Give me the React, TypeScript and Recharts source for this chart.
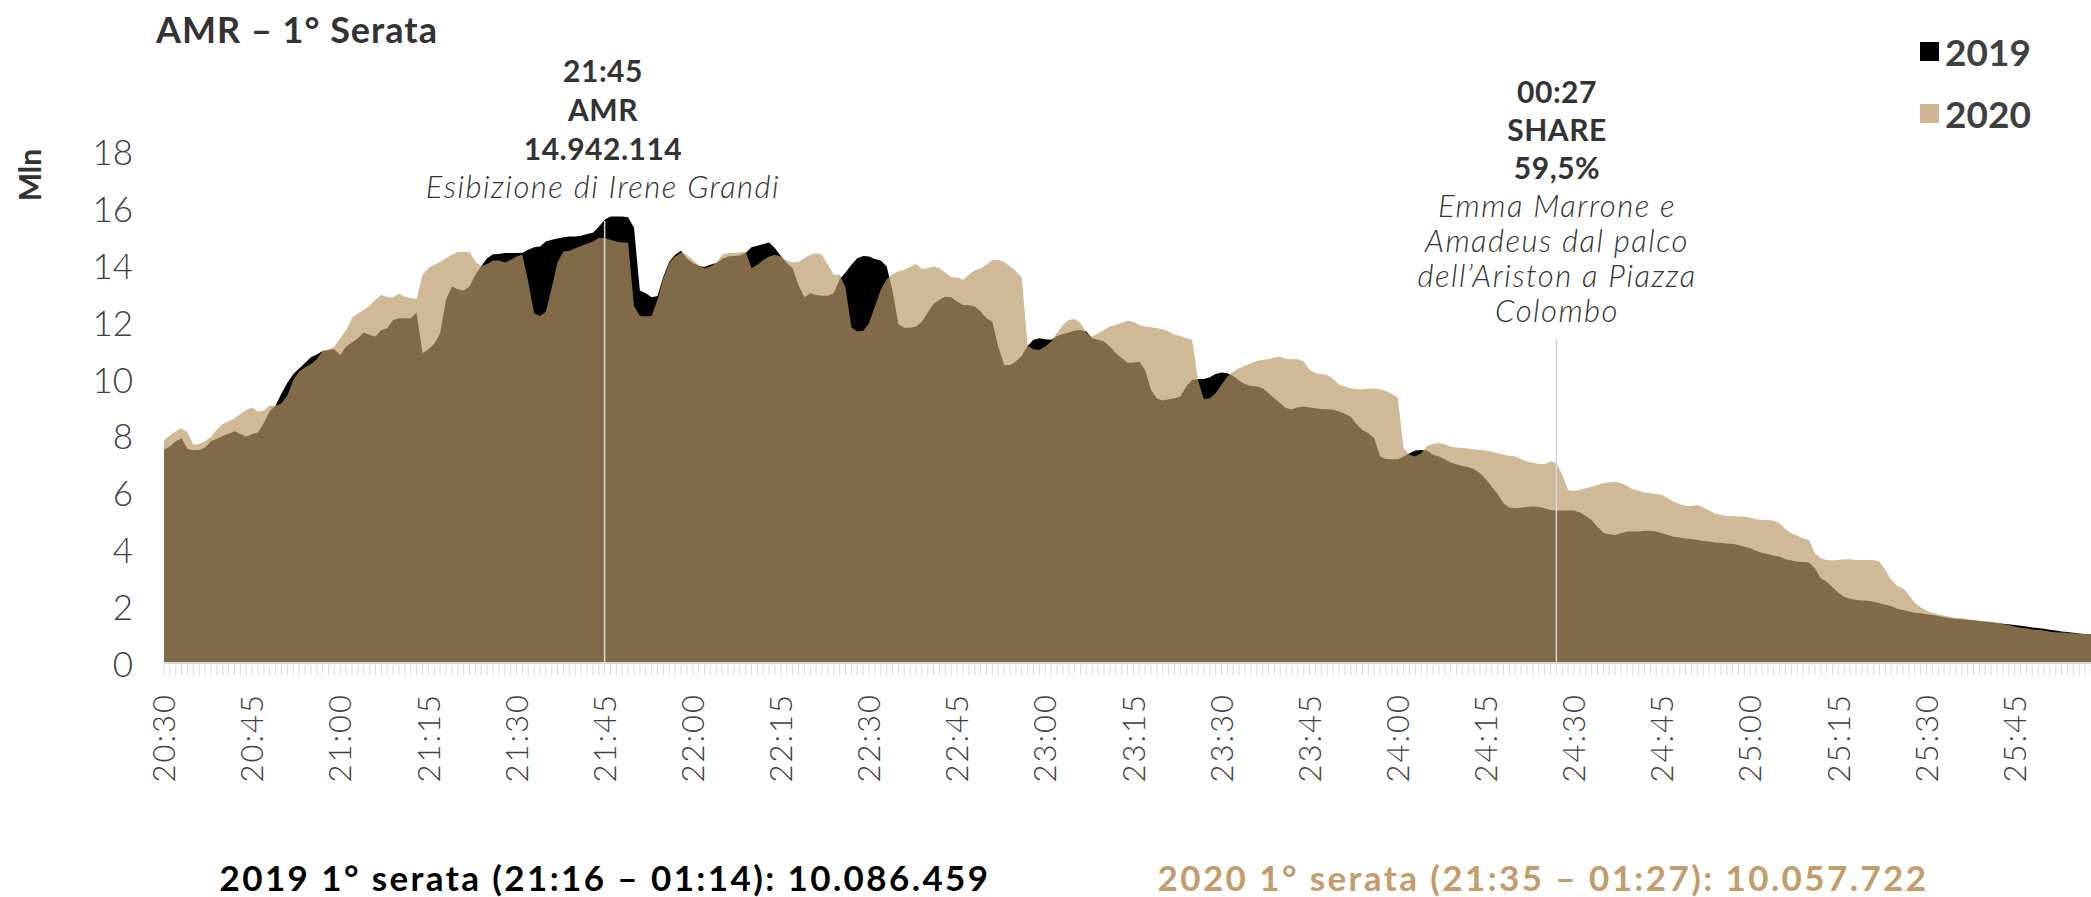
import React from 'react';
import { AreaChart, Area, XAxis, YAxis, ReferenceLine, Legend } from 'recharts';

// ---------- DATA ----------
const START_MINUTES = 20 * 60 + 30; // 20:30
const POINTS = 329; // one point per minute, 20:30 .. 25:58

const CATEGORIES: string[] = Array.from({ length: POINTS }, (_, i) => {
  const t = START_MINUTES + i;
  return `${Math.floor(t / 60)}:${String(t % 60).padStart(2, '0')}`;
});

const TICK_LABELS = [
  '20:30', '20:45', '21:00', '21:15', '21:30', '21:45', '22:00', '22:15', '22:30', '22:45', '23:00',
  '23:15', '23:30', '23:45', '24:00', '24:15', '24:30', '24:45', '25:00', '25:15', '25:30', '25:45',
];

const Y_TICKS = [0, 2, 4, 6, 8, 10, 12, 14, 16, 18];

// AMR (millions), 2019 – one value per minute
const SERIES_2019 = [
  7.50, 7.62, 7.80, 7.90, 7.52, 7.48, 7.49, 7.58, 7.80, 7.88,
  7.98, 8.06, 8.15, 8.05, 7.95, 8.05, 8.10, 8.45, 8.85, 9.05,
  9.48, 9.85, 10.15, 10.35, 10.55, 10.75, 10.85, 10.97, 11.00, 11.03,
  10.83, 11.13, 11.27, 11.42, 11.62, 11.53, 11.48, 11.71, 11.77, 12.06,
  12.12, 12.12, 12.12, 12.32, 10.89, 11.03, 11.22, 11.59, 12.77, 13.24,
  13.14, 13.10, 13.24, 13.65, 13.96, 14.23, 14.37, 14.38, 14.41, 14.41,
  14.41, 14.42, 14.53, 14.62, 14.64, 14.82, 14.88, 14.92, 14.97, 14.99,
  14.99, 15.02, 15.08, 15.13, 15.34, 15.58, 15.70, 15.70, 15.70, 15.67,
  15.30, 13.10, 13.00, 12.86, 12.90, 13.59, 14.11, 14.35, 14.49, 14.23,
  14.06, 13.97, 13.92, 14.00, 14.06, 14.20, 14.29, 14.31, 14.33, 14.41,
  14.62, 14.67, 14.73, 14.78, 14.58, 14.31, 14.06, 13.88, 13.29, 12.86,
  13.00, 12.94, 12.91, 12.91, 13.00, 13.49, 13.73, 14.00, 14.23, 14.31,
  14.29, 14.20, 14.15, 13.95, 13.10, 11.92, 11.79, 11.79, 11.83, 12.00,
  12.32, 12.63, 12.77, 12.88, 12.86, 12.71, 12.59, 12.58, 12.53, 12.36,
  12.12, 12.00, 11.13, 10.48, 10.48, 10.60, 10.80, 11.15, 11.36, 11.42,
  11.38, 11.36, 11.50, 11.57, 11.62, 11.69, 11.71, 11.65, 11.42, 11.36,
  11.30, 11.13, 10.89, 10.72, 10.56, 10.56, 10.60, 10.30, 9.60, 9.31,
  9.23, 9.27, 9.31, 9.37, 9.72, 9.95, 9.98, 9.98, 10.05, 10.16,
  10.21, 10.19, 10.09, 9.93, 9.81, 9.74, 9.72, 9.66, 9.48, 9.31,
  9.13, 8.96, 8.92, 8.99, 9.02, 8.98, 8.96, 8.93, 8.92, 8.90,
  8.84, 8.76, 8.66, 8.39, 8.19, 8.08, 7.90, 7.26, 7.17, 7.16,
  7.16, 7.26, 7.37, 7.47, 7.49, 7.47, 7.32, 7.26, 7.16, 7.05,
  6.99, 6.93, 6.88, 6.81, 6.67, 6.46, 6.20, 5.94, 5.62, 5.47,
  5.44, 5.46, 5.48, 5.50, 5.48, 5.44, 5.38, 5.36, 5.36, 5.36,
  5.36, 5.29, 5.17, 5.03, 4.79, 4.58, 4.53, 4.50, 4.56, 4.62,
  4.62, 4.62, 4.65, 4.65, 4.62, 4.56, 4.50, 4.44, 4.41, 4.38,
  4.35, 4.33, 4.29, 4.27, 4.24, 4.23, 4.19, 4.19, 4.15, 4.09,
  4.03, 3.95, 3.88, 3.83, 3.77, 3.74, 3.65, 3.60, 3.56, 3.55,
  3.53, 3.33, 2.98, 2.86, 2.66, 2.47, 2.33, 2.26, 2.22, 2.20,
  2.19, 2.15, 2.10, 2.05, 2.00, 1.91, 1.86, 1.81, 1.77, 1.75,
  1.71, 1.69, 1.65, 1.61, 1.57, 1.55, 1.54, 1.51, 1.50, 1.48,
  1.45, 1.43, 1.41, 1.38, 1.36, 1.34, 1.31, 1.28, 1.25, 1.23,
  1.20, 1.17, 1.14, 1.11, 1.09, 1.06, 1.04, 1.02, 1.01,
];

// AMR (millions), 2020 – one value per minute
const SERIES_2020 = [
  7.84, 8.00, 8.15, 8.25, 8.10, 7.67, 7.70, 7.80, 7.95, 8.20,
  8.40, 8.50, 8.60, 8.75, 8.90, 8.98, 8.84, 8.88, 9.05, 9.04,
  9.13, 9.40, 9.95, 10.25, 10.40, 10.50, 10.68, 10.97, 11.03, 11.13,
  11.42, 11.71, 12.12, 12.30, 12.40, 12.56, 12.77, 12.94, 12.86, 12.86,
  12.98, 12.88, 12.83, 12.80, 13.65, 13.88, 14.00, 14.11, 14.23, 14.35,
  14.45, 14.45, 14.45, 14.11, 13.96, 14.03, 14.15, 14.15, 14.08, 14.17,
  14.29, 14.35, 13.40, 12.30, 12.20, 12.35, 13.20, 14.10, 14.47, 14.49,
  14.58, 14.66, 14.74, 14.82, 14.94, 14.94, 14.88, 14.82, 14.78, 14.78,
  12.55, 12.20, 12.18, 12.20, 12.77, 13.53, 14.06, 14.29, 14.43, 14.35,
  14.17, 14.00, 13.88, 13.94, 14.06, 14.35, 14.41, 14.41, 14.43, 14.47,
  13.88, 14.00, 14.17, 14.29, 14.35, 14.29, 14.15, 14.08, 14.11, 14.23,
  14.35, 14.41, 14.35, 14.00, 13.65, 13.65, 13.20, 11.80, 11.65, 11.68,
  11.95, 12.53, 13.12, 13.49, 13.68, 13.76, 13.82, 13.92, 14.03, 13.85,
  13.88, 13.94, 13.88, 13.72, 13.56, 13.55, 13.47, 13.65, 13.80, 13.88,
  14.00, 14.17, 14.17, 14.11, 13.94, 13.76, 13.56, 11.15, 11.03, 11.00,
  11.13, 11.30, 11.60, 11.88, 12.06, 12.09, 11.95, 11.60, 11.48, 11.59,
  11.71, 11.83, 11.88, 11.95, 12.03, 12.00, 11.88, 11.83, 11.80, 11.77,
  11.73, 11.65, 11.54, 11.50, 11.42, 11.36, 9.95, 9.27, 9.31, 9.48,
  9.78, 10.07, 10.25, 10.36, 10.45, 10.54, 10.62, 10.66, 10.68, 10.74,
  10.77, 10.69, 10.68, 10.68, 10.60, 10.30, 10.19, 10.16, 10.13, 9.98,
  9.78, 9.72, 9.66, 9.62, 9.62, 9.65, 9.65, 9.62, 9.56, 9.46,
  9.34, 7.55, 7.32, 7.26, 7.37, 7.63, 7.70, 7.73, 7.69, 7.61,
  7.58, 7.56, 7.54, 7.51, 7.49, 7.47, 7.43, 7.37, 7.32, 7.29,
  7.26, 7.16, 7.08, 7.04, 7.00, 7.00, 7.08, 7.04, 6.61, 6.08,
  6.05, 6.08, 6.14, 6.20, 6.26, 6.32, 6.35, 6.37, 6.32, 6.23,
  6.11, 6.06, 5.99, 5.97, 5.94, 5.91, 5.79, 5.67, 5.59, 5.52,
  5.52, 5.56, 5.47, 5.36, 5.26, 5.21, 5.17, 5.17, 5.15, 5.15,
  5.11, 5.05, 5.03, 5.03, 5.00, 4.91, 4.70, 4.56, 4.47, 4.38,
  4.33, 3.86, 3.68, 3.62, 3.60, 3.62, 3.65, 3.65, 3.62, 3.62,
  3.62, 3.62, 3.56, 3.27, 2.92, 2.71, 2.63, 2.39, 2.12, 1.96,
  1.84, 1.77, 1.71, 1.66, 1.63, 1.59, 1.57, 1.55, 1.51, 1.48,
  1.47, 1.45, 1.42, 1.37, 1.34, 1.28, 1.24, 1.22, 1.18, 1.16,
  1.14, 1.10, 1.08, 1.07, 1.06, 1.04, 1.03, 1.02, 1.01,
];

const ANNOTATION_1 = { time: '21:45', top: 15.55, lines: ['21:45', 'AMR', '14.942.114'], note: ['Esibizione di Irene Grandi'] };
const ANNOTATION_2 = { time: '24:27', top: 11.43, lines: ['00:27', 'SHARE', '59,5%'], note: ['Emma Marrone e', 'Amadeus dal palco', 'dell\u2019Ariston a Piazza', 'Colombo'] };

const SUMMARY_2019 = '2019 1° serata (21:16 – 01:14): 10.086.459';
const SUMMARY_2020 = '2020 1° serata (21:35 – 01:27): 10.057.722';

const data = CATEGORIES.map((t, i) => ({ t, y2019: SERIES_2019[i], y2020: SERIES_2020[i] }));

// ---------- STYLE ----------
const FONT = "Lato, 'Open Sans', 'DejaVu Sans', sans-serif";
const TEXT = '#404040';
const LEGEND_COLORS: Record<string, string> = { '2019': '#000000', '2020': '#CFB593' };

const XTick = (props: any) => {
  const { x, y, payload } = props;
  const label = payload.value as string;
  const show = TICK_LABELS.includes(label);
  const ty = y + 30;
  return (
    <g>
      <line x1={x} x2={x} y1={y + 2} y2={y + 12} stroke="#D9D9D9" strokeWidth={1} />
      {show && (
        <text
          x={x}
          y={ty}
          transform={`rotate(-90, ${x}, ${ty})`}
          textAnchor="end"
          dy="0.36em"
          fontSize={31}
          fontWeight={300}
          letterSpacing={2}
          fill={TEXT}
          fontFamily={FONT}
        >
          {label}
        </text>
      )}
    </g>
  );
};

const YTick = (props: any) => {
  const { y, payload } = props;
  return (
    <text x={133} y={y} textAnchor="end" dominantBaseline="central" fontSize={35} fontWeight={300} fill={TEXT} fontFamily={FONT}>
      {payload.value}
    </text>
  );
};

const renderLegend = (props: any) => {
  const payload = props.payload || [];
  return (
    <div style={{ display: 'flex', flexDirection: 'column' }}>
      {payload.map((entry: any) => (
        <div key={entry.value} style={{ display: 'flex', alignItems: 'center', height: 62 }}>
          <span style={{ width: 19, height: 19, background: LEGEND_COLORS[entry.value] ?? entry.color, marginRight: 6, display: 'inline-block' }} />
          <span style={{ fontFamily: FONT, fontWeight: 700, fontSize: 37, color: TEXT, lineHeight: 1 }}>{entry.value}</span>
        </div>
      ))}
    </div>
  );
};

const Label = ({ x, y, children, style }: { x: number; y: number; children: React.ReactNode; style?: React.CSSProperties }) => (
  <div
    style={{
      position: 'absolute',
      left: x,
      top: y,
      transform: 'translate(-50%, -50%)',
      whiteSpace: 'nowrap',
      fontFamily: FONT,
      lineHeight: 1,
      ...style,
    }}
  >
    {children}
  </div>
);

const boldNote: React.CSSProperties = { fontWeight: 700, fontSize: 30, color: '#333333', letterSpacing: 0.5 };
const italicNote: React.CSSProperties = { fontStyle: 'italic', fontWeight: 300, fontSize: 31, color: '#333333', letterSpacing: 1.5 };
const summary: React.CSSProperties = { fontWeight: 700, fontSize: 35, letterSpacing: 2.4 };

export default function App() {
  return (
    <div style={{ position: 'relative', width: 2091, height: 897, background: '#fff', fontFamily: FONT, overflow: 'hidden' }}>
      <style>{'body{margin:0;}'}</style>
      <AreaChart width={2091} height={897} data={data} margin={{ top: 151, right: 0, left: 104, bottom: 174 }}>
        <XAxis
          dataKey="t"
          interval={0}
          tick={<XTick />}
          tickLine={false}
          tickSize={0}
          tickMargin={0}
          height={60}
          axisLine={{ stroke: '#D9D9D9', strokeWidth: 2 }}
        />
        <YAxis domain={[0, 18]} ticks={Y_TICKS} width={60} axisLine={false} tickLine={false} tick={<YTick />} interval={0} />
        <Area
          type="linear"
          dataKey="y2019"
          name="2019"
          stroke="none"
          fill="#000000"
          fillOpacity={1}
          dot={false}
          activeDot={false}
          isAnimationActive={false}
        />
        <Area
          type="linear"
          dataKey="y2020"
          name="2020"
          stroke="none"
          fill="#B99A67"
          fillOpacity={0.69}
          dot={false}
          activeDot={false}
          isAnimationActive={false}
        />
        <ReferenceLine
          segment={[{ x: ANNOTATION_1.time, y: 0 }, { x: ANNOTATION_1.time, y: ANNOTATION_1.top }]}
          stroke="#D6D6D6"
          strokeWidth={1.5}
        />
        <ReferenceLine
          segment={[{ x: ANNOTATION_2.time, y: 0 }, { x: ANNOTATION_2.time, y: ANNOTATION_2.top }]}
          stroke="#D6D6D6"
          strokeWidth={1.5}
        />
        <Legend
          layout="horizontal"
          verticalAlign="middle"
          align="center"
          content={renderLegend}
          wrapperStyle={{ position: 'absolute', top: 20, left: 1920, width: 171, height: 124 }}
        />
      </AreaChart>

      {/* Title */}
      <div style={{ position: 'absolute', left: 156, top: 29, transform: 'translateY(-50%)', fontFamily: FONT, fontWeight: 700, fontSize: 36, letterSpacing: 1, color: '#333333', whiteSpace: 'nowrap', lineHeight: 1 }}>
        AMR – 1° Serata
      </div>

      {/* Y axis title */}
      <Label x={29} y={175} style={{ transform: 'translate(-50%, -50%) rotate(-90deg)', fontWeight: 700, fontSize: 30, color: '#333333' }}>
        Mln
      </Label>

      {/* Annotation 1 */}
      {ANNOTATION_1.lines.map((l, i) => (
        <Label key={l} x={603} y={70 + i * 39} style={boldNote}>{l}</Label>
      ))}
      {ANNOTATION_1.note.map((l, i) => (
        <Label key={l} x={603} y={186 + i * 35} style={italicNote}>{l}</Label>
      ))}

      {/* Annotation 2 */}
      {ANNOTATION_2.lines.map((l, i) => (
        <Label key={l} x={1557} y={91 + i * 38} style={boldNote}>{l}</Label>
      ))}
      {ANNOTATION_2.note.map((l, i) => (
        <Label key={l} x={1557} y={205 + i * 35} style={italicNote}>{l}</Label>
      ))}

      {/* Summaries */}
      <Label x={605} y={877} style={{ ...summary, color: '#000000' }}>{SUMMARY_2019}</Label>
      <Label x={1543} y={877} style={{ ...summary, color: '#C29C6B' }}>{SUMMARY_2020}</Label>
    </div>
  );
}
